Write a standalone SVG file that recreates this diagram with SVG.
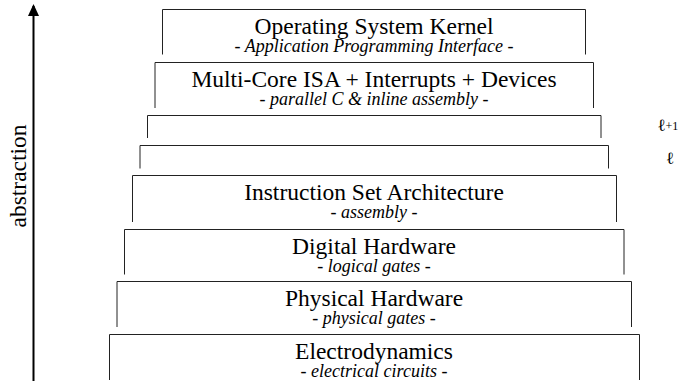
<svg xmlns="http://www.w3.org/2000/svg" width="680" height="388" viewBox="0 0 680 388">
  <style>
    .frame { fill: none; stroke: #222; stroke-width: 1; }
    .title { font-family: "Liberation Serif", "Times New Roman", serif; font-size: 23.5px; fill: #000; text-anchor: middle; }
    .sub { font-family: "Liberation Serif", "Times New Roman", serif; font-size: 18px; font-style: italic; fill: #000; text-anchor: middle; }
    .ell { font-family: "DejaVu Serif", "Liberation Serif", serif; font-size: 17px; fill: #000; }
    .num { font-family: "Liberation Serif", "Times New Roman", serif; font-size: 12px; fill: #000; }
    .axis { font-family: "Liberation Serif", "Times New Roman", serif; font-size: 23.5px; fill: #000; text-anchor: middle; }
  </style>
  <defs>
    <marker id="head" viewBox="0 0 12 12" refX="10" refY="6" markerWidth="6" markerHeight="6" markerUnits="strokeWidth" orient="auto">
      <path d="M0,0.5 L12,6 L0,11.5 Z" fill="#000"/>
    </marker>
  </defs>

  <!-- abstraction axis -->
  <g id="axis">
    <line x1="33.5" y1="381" x2="33.5" y2="6" stroke="#000" stroke-width="2" marker-end="url(#head)"/>
    <text class="axis" transform="translate(26,176) rotate(-90)">abstraction</text>
  </g>

  <!-- layers, top to bottom -->
  <g id="os-kernel">
    <path class="frame" d="M162.5,54.5 V9.5 H585.5 V54.5"/>
    <text class="title" x="374" y="34">Operating System Kernel</text>
    <text class="sub" x="374" y="52">- Application Programming Interface -</text>
  </g>
  <g id="multicore-isa">
    <path class="frame" d="M155,108 V62.5 H593.5 V108"/>
    <text class="title" x="374" y="87">Multi-Core ISA + Interrupts + Devices</text>
    <text class="sub" x="374" y="105">- parallel C &amp; inline assembly -</text>
  </g>
  <g id="level-l-plus-1">
    <path class="frame" d="M147.5,138 V115.5 H601 V138"/>
    <text class="ell" x="657.5" y="130.5">ℓ</text>
    <text class="num" x="665.5" y="130">+1</text>
  </g>
  <g id="level-l">
    <path class="frame" d="M140,168.5 V145.5 H608.5 V168.5"/>
    <text class="ell" x="666" y="163.5">ℓ</text>
  </g>
  <g id="isa">
    <path class="frame" d="M132.5,222 V175.5 H616.5 V222"/>
    <text class="title" x="374" y="200">Instruction Set Architecture</text>
    <text class="sub" x="374" y="218">- assembly -</text>
  </g>
  <g id="digital-hw">
    <path class="frame" d="M124.5,274.5 V229.5 H624 V274.5"/>
    <text class="title" x="374" y="254">Digital Hardware</text>
    <text class="sub" x="374" y="272">- logical gates -</text>
  </g>
  <g id="physical-hw">
    <path class="frame" d="M117,327 V281.5 H631.5 V327"/>
    <text class="title" x="374" y="306">Physical Hardware</text>
    <text class="sub" x="374" y="324">- physical gates -</text>
  </g>
  <g id="electrodynamics">
    <path class="frame" d="M109.5,380 V334.5 H639.5 V380"/>
    <text class="title" x="374" y="359">Electrodynamics</text>
    <text class="sub" x="374" y="377">- electrical circuits -</text>
  </g>
</svg>
